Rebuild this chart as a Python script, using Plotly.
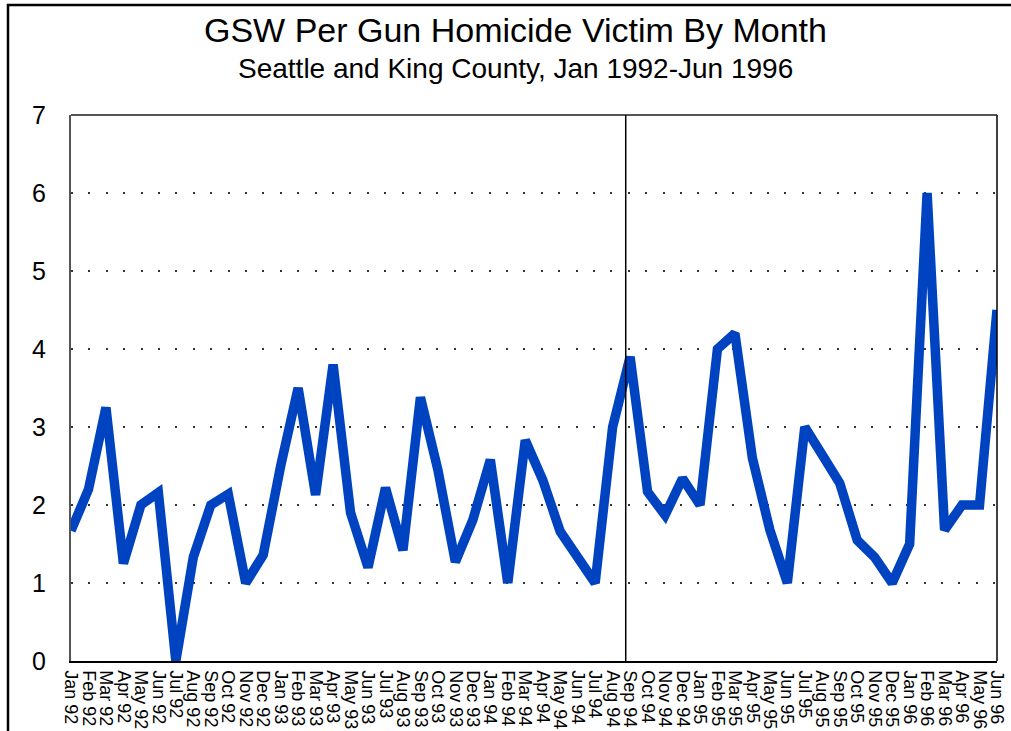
import plotly.graph_objects as go

months = ["Jan", "Feb", "Mar", "Apr", "May", "Jun", "Jul", "Aug", "Sep", "Oct", "Nov", "Dec"]
labels = []
for yr in ["92", "93", "94", "95", "96"]:
    for m in months:
        labels.append(m + " " + yr)
labels = labels[:54]  # Jan 92 - Jun 96

gsw = [1.67, 2.2, 3.25, 1.25, 2.0, 2.16, 0.0, 1.33, 2.0, 2.14, 1.0, 1.36,
       2.5, 3.5, 2.13, 3.8, 1.9, 1.2, 2.22, 1.42, 3.38, 2.45, 1.27, 1.81,
       2.58, 1.0, 2.83, 2.32, 1.66, 1.33, 1.0, 3.0, 3.9, 2.17, 1.87, 2.34,
       2.0, 4.0, 4.2, 2.6, 1.68, 1.0, 3.0, 2.64, 2.28, 1.55, 1.33, 1.0,
       1.5, 6.0, 1.68, 2.0, 2.0, 4.5]

divider = 31.75  # vertical marker just before Sep 94

font = "Liberation Sans, Arial, sans-serif"

fig = go.Figure()
fig.add_trace(go.Scatter(x=labels, y=gsw, mode="lines",
                         line=dict(color="#0043C0", width=9.5),
                         showlegend=False))

# plot area: left 71, right 997, top 115, bottom 661 (px)
L, R, T, B = 71, 997, 115, 661
def px(x): return (x - L) / (R - L)
def py(y): return (B - y) / (B - T)

fig.update_layout(
    width=1011, height=731,
    margin=dict(l=L, r=1011 - R, t=T, b=731 - B, autoexpand=False),
    paper_bgcolor="white", plot_bgcolor="white",
    font=dict(family=font, color="black"),
    xaxis=dict(type="category", range=[0, 53], tickangle=90,
               tickmode="linear", dtick=1, automargin=False,
               tickfont=dict(size=18), showgrid=False, ticklabelstandoff=4,
               showline=True, linecolor="black", linewidth=1.5,
               ticks="", mirror=False),
    yaxis=dict(range=[0, 7], dtick=1, tickfont=dict(size=25), automargin=False,
               showgrid=True, gridcolor="#333333", gridwidth=1.5,
               griddash="2px,15.4px", zeroline=False,
               showline=True, linecolor="#555555", linewidth=2,
               ticklabelstandoff=18),
    annotations=[
        dict(text="GSW Per Gun Homicide Victim By Month", xref="paper", yref="paper",
             x=px(515), y=py(30), xanchor="center", yanchor="middle",
             showarrow=False, font=dict(size=34)),
        dict(text="Seattle and King County, Jan 1992-Jun 1996", xref="paper", yref="paper",
             x=px(515), y=py(68), xanchor="center", yanchor="middle",
             showarrow=False, font=dict(size=28)),
    ],
    shapes=[
        # outer frame
        dict(type="rect", xref="paper", yref="paper",
             x0=px(8), x1=px(1030), y0=py(750), y1=py(5),
             line=dict(color="black", width=2.5), layer="below"),
        # top and right border of plot area
        dict(type="line", xref="paper", yref="paper", x0=0, x1=1, y0=1, y1=1,
             line=dict(color="#555555", width=2)),
        dict(type="line", xref="paper", yref="paper", x0=1, x1=1, y0=0, y1=1,
             line=dict(color="black", width=1.5)),
        # divider line
        dict(type="line", xref="x", yref="y", x0=divider, x1=divider, y0=0, y1=7,
             line=dict(color="black", width=1.5)),
    ],
)

fig.write_html("out.html", config={"displayModeBar": False},
               post_script="document.body.style.margin='0px';document.body.style.overflow='hidden';")
